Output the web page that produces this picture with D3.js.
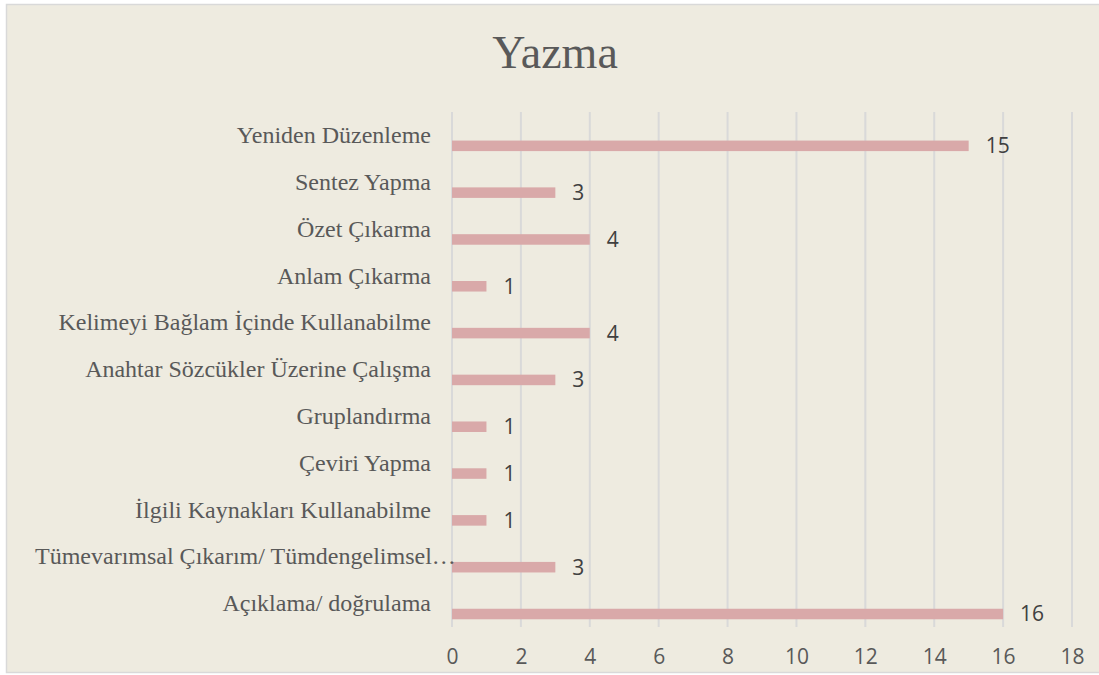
<!DOCTYPE html>
<html>
<head>
<meta charset="utf-8">
<script src="https://cdn.jsdelivr.net/npm/d3@7"></script>
<style>
  body { margin: 0; background: #ffffff; }
  svg { display: block; }
</style>
</head>
<body>
<svg width="1099" height="675"></svg>
<script>
var categories = [
  "Yeniden Düzenleme",
  "Sentez Yapma",
  "Özet Çıkarma",
  "Anlam Çıkarma",
  "Kelimeyi Bağlam İçinde Kullanabilme",
  "Anahtar Sözcükler Üzerine Çalışma",
  "Gruplandırma",
  "Çeviri Yapma",
  "İlgili Kaynakları Kullanabilme",
  "Tümevarımsal Çıkarım/ Tümdengelimsel…",
  "Açıklama/ doğrulama"
];
var values = [15, 3, 4, 1, 4, 3, 1, 1, 1, 3, 16];
var xTicks = [0, 2, 4, 6, 8, 10, 12, 14, 16, 18];
var title = "Yazma";

var svg = d3.select("svg");

// chart background + frame
svg.append("rect")
  .attr("x", 6.5).attr("y", 4.5)
  .attr("width", 1100).attr("height", 668)
  .attr("fill", "#eeebe0")
  .attr("stroke", "#d9d9d9")
  .attr("stroke-width", 1.5);

var x = d3.scaleLinear().domain([0, 18]).range([452, 1072]);
var y = d3.scaleBand().domain(categories).range([112, 627]).paddingInner(0);

// gridlines
svg.append("g").selectAll("line")
  .data(xTicks)
  .join("line")
  .attr("x1", function(d) { return x(d); })
  .attr("x2", function(d) { return x(d); })
  .attr("y1", 112).attr("y2", 627)
  .attr("stroke", "#d9d9d9")
  .attr("stroke-width", 2);

// tick labels
var xAxis = svg.append("g")
  .attr("transform", "translate(0,627)")
  .call(d3.axisBottom(x).tickValues(xTicks).tickSize(0).tickPadding(22));
xAxis.select(".domain").remove();
xAxis.selectAll("text")
  .attr("font-family", "'Open Sans', sans-serif")
  .attr("font-size", 21)
  .attr("fill", "#595959");

// bars
svg.append("g").selectAll("rect")
  .data(categories)
  .join("rect")
  .attr("x", x(0))
  .attr("y", function(d) { return y(d) + y.bandwidth() * 0.61; })
  .attr("width", function(d, i) { return x(values[i]) - x(0); })
  .attr("height", y.bandwidth() * 0.225)
  .attr("fill", "#d9a9a9");

// value labels
svg.append("g").selectAll("text")
  .data(categories)
  .join("text")
  .attr("x", function(d, i) { return x(values[i]) + 17; })
  .attr("y", function(d) { return y(d) + y.bandwidth() * 0.72; })
  .attr("dy", "0.36em")
  .attr("font-family", "'Open Sans', sans-serif")
  .attr("font-size", 21)
  .attr("fill", "#404040")
  .text(function(d, i) { return values[i]; });

// category labels
svg.append("g").selectAll("text")
  .data(categories)
  .join("text")
  .attr("x", 431)
  .attr("y", function(d) { return y(d) + y.bandwidth() / 2; })
  .attr("dy", "0.32em")
  .attr("text-anchor", "end")
  .attr("font-family", "'Liberation Serif', 'Times New Roman', serif")
  .attr("font-size", 24)
  .attr("fill", "#595959")
  .text(function(d) { return d; })
  .each(function() {
    // too-long label: Excel lets it run from the left edge
    if (this.getComputedTextLength() > 397) {
      d3.select(this).attr("text-anchor", "start").attr("x", 35);
    }
  });

// title
svg.append("text")
  .attr("x", 555)
  .attr("y", 68)
  .attr("text-anchor", "middle")
  .attr("font-family", "'Liberation Serif', 'Times New Roman', serif")
  .attr("font-size", 46)
  .attr("fill", "#595959")
  .text(title);
</script>
</body>
</html>
